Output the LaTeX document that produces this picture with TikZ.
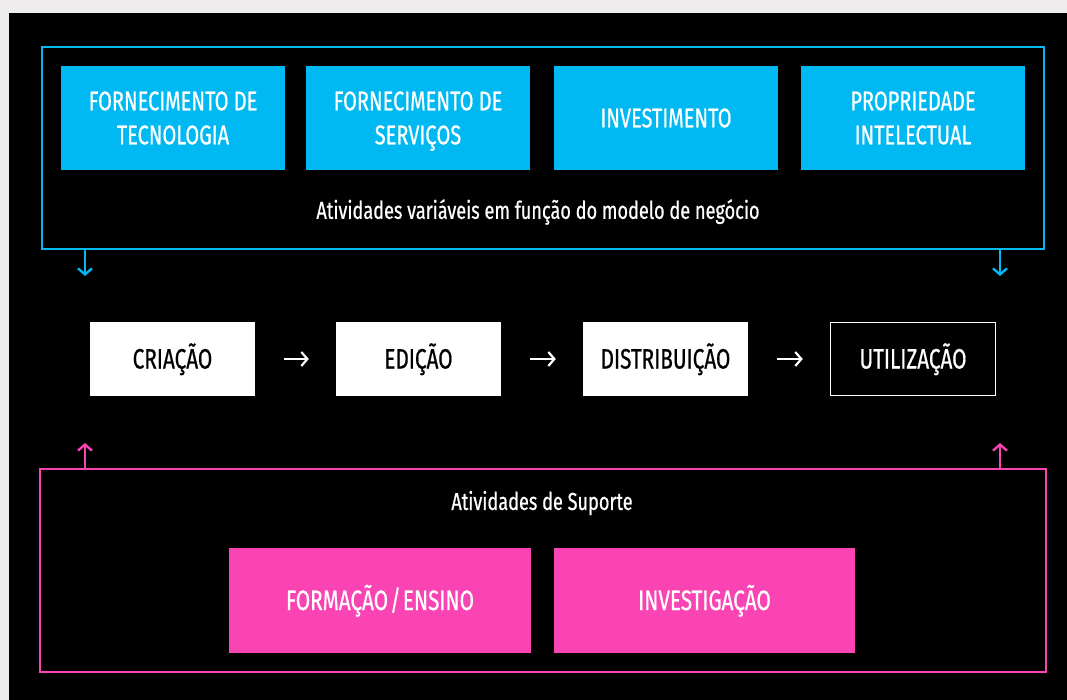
\documentclass[tikz,border=0pt]{standalone}
\usepackage{fontspec}
\setmainfont[FakeStretch=0.74, FakeBold=0.6]{Fira Sans}
\usetikzlibrary{arrows.meta}
\definecolor{cblue}{RGB}{0,185,242}
\definecolor{cpink}{RGB}{250,68,180}
\definecolor{cgray}{RGB}{238,236,236}
\tikzset{
  bluebox/.style={fill=cblue, text=white, minimum width=224pt, minimum height=104pt, inner sep=0pt, align=center, font=\fontsize{27}{34}\selectfont},
  stagebox/.style={fill=white, text=black, minimum width=165pt, minimum height=74pt, inner sep=0pt, text height=19pt, text depth=0pt, font=\fontsize{28}{30}\selectfont},
  pinkbox/.style={fill=cpink, text=white, minimum width=302pt, minimum height=105pt, inner sep=0pt, text height=19pt, text depth=0pt, font=\fontsize{28}{30}\selectfont},
  frametext/.style={text=white, inner sep=0pt, font=\fontsize{24.5}{28}\selectfont},
  flowarrow/.style={draw=white, line width=2.2pt, -{Straight Barb[length=6pt,width=14pt,line width=2.2pt]}},
  bluearrow/.style={draw=cblue, line width=2.4pt, -{Straight Barb[length=6pt,width=14pt,line width=2.4pt]}},
  pinkarrow/.style={draw=cpink, line width=2.4pt, -{Straight Barb[length=6pt,width=14pt,line width=2.4pt]}}
}
\begin{document}
\begin{tikzpicture}[x=1pt,y=-1pt]
\fill[cgray] (0,0) rectangle (1067,700);
\fill[black] (9,13) rectangle (1067,700);
\useasboundingbox (0,0) rectangle (1067,700);

% top frame
\node[draw=cblue, line width=2pt, minimum width=1002pt, minimum height=202pt, inner sep=0pt] (bframe) at (543,148) {};
\node[bluebox] (tec) at (173,118) {FORNECIMENTO DE\\TECNOLOGIA};
\node[bluebox] (serv) at (418,118) {FORNECIMENTO DE\\SERVI\smash{Ç}OS};
\node[bluebox] (inv) at (666,118) {INVESTIMENTO};
\node[bluebox] (prop) at (913,118) {PROPRIEDADE\\INTELECTUAL};
\node[frametext] (btext) at (538,212) {Atividades variáveis em função do modelo de negócio};

% stages
\node[stagebox] (cri) at (172.5,359) {CRIAÇÃO};
\node[stagebox] (edi) at (418.5,359) {EDIÇÃO};
\node[stagebox] (dis) at (665.5,359) {DISTRIBUIÇÃO};
\node[stagebox, fill=black, text=white, draw=white, line width=1.5pt, minimum width=165pt, minimum height=73pt] (uti) at (913,359) {UTILIZAÇÃO};

\draw[flowarrow, shorten <=29pt, shorten >=27pt] (cri) -- (edi);
\draw[flowarrow, shorten <=29pt, shorten >=27pt] (edi) -- (dis);
\draw[flowarrow, shorten <=29pt, shorten >=27pt] (dis) -- (uti);

% bottom frame
\node[draw=cpink, line width=2pt, minimum width=1006pt, minimum height=203pt, inner sep=0pt] (pframe) at (543,570.5) {};
\node[frametext] (ptext) at (542,503) {Atividades de Suporte};
\node[pinkbox] (form) at (380,600.5) {FORMAÇÃO\kern2pt/\kern2pt ENSINO};
\node[pinkbox, minimum width=301pt] (invg) at (704.5,600.5) {INVESTIGAÇÃO};

% side arrows
\coordinate (bl) at ([xshift=44pt]bframe.south west);
\coordinate (br) at ([xshift=-45pt]bframe.south east);
\coordinate (blend) at ([yshift=-26pt]bl);
\coordinate (brend) at ([yshift=-26pt]br);
\draw[bluearrow] (bl) -- (blend);
\draw[bluearrow] (br) -- (brend);
\coordinate (pl) at ([xshift=46pt]pframe.north west);
\coordinate (pr) at ([xshift=-47pt]pframe.north east);
\coordinate (plend) at ([yshift=25pt]pl);
\coordinate (prend) at ([yshift=25pt]pr);
\draw[pinkarrow] (pl) -- (plend);
\draw[pinkarrow] (pr) -- (prend);
\end{tikzpicture}
\end{document}
